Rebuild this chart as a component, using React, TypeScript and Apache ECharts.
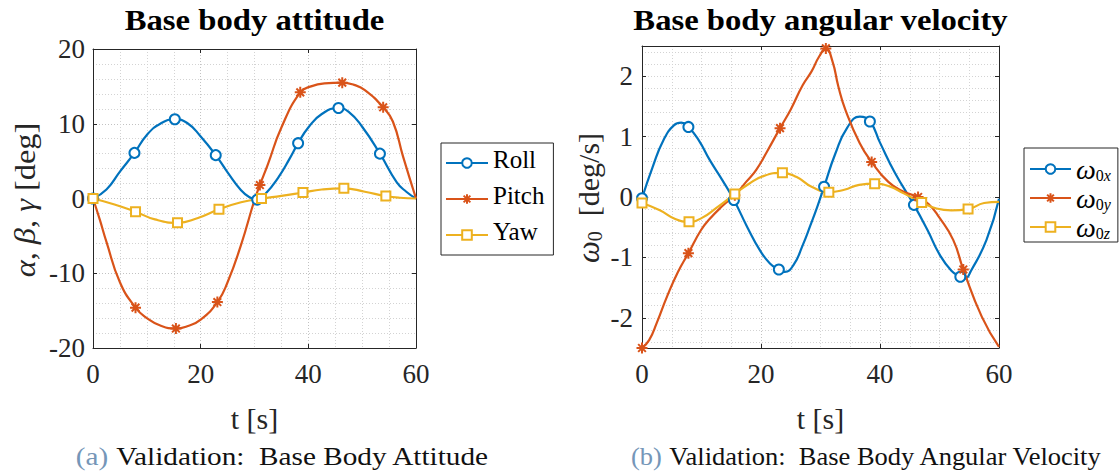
import React, { useEffect, useRef } from "react";
import * as echarts from "echarts";

// MATLAB default line colours
const BLUE = "#0072BD";
const ORANGE = "#D95319";
const YELLOW = "#EDB120";
const AX = "#262626";
const GRID_MAJOR = "#c2c2c2";
const GRID_MINOR = "#d3d3d3";
const FONT = "'Liberation Serif', 'Times New Roman', serif";

// ---------- Base body attitude [deg] ----------
const rollT = [0, 2.5, 5, 7.7, 10, 12.5, 15.2, 17.5, 20, 22.8, 25, 27.5, 29, 30.5, 32, 34.5, 36.5, 38.1, 40, 42.5, 45.6, 47.5, 50, 53.3, 56.4, 58.2, 60];
const rollV = [0, 1.2, 3.6, 6.1, 8.5, 10.0, 10.6, 10.1, 8.3, 5.8, 3.5, 1.1, 0.2, -0.15, 0.6, 2.9, 5.3, 7.4, 9.5, 11.3, 12.1, 11.6, 9.6, 6.0, 2.2, 0.9, 0];
const rollMarks = [0, 7.7, 15.2, 22.8, 30.5, 38.1, 45.6, 53.3];

const pitchT = [0, 1.25, 2.5, 5, 7.9, 10, 12.5, 15.4, 17.5, 20, 23.1, 25, 27.5, 30, 31, 32.5, 35, 38.5, 40.5, 43, 46.3, 48.5, 50.5, 53.9, 55.7, 57.6, 60];
const pitchV = [0, -2.8, -5.8, -11.2, -14.6, -16.0, -17.0, -17.4, -17.1, -16.2, -13.85, -11.2, -6.2, -0.2, 1.8, 4.6, 9.5, 14.2, 15.0, 15.4, 15.5, 15.2, 14.5, 12.2, 10.3, 5.6, 0];
const pitchMarks = [0, 7.9, 15.4, 23.1, 31, 38.5, 46.3, 53.9];

const yawT = [0, 4, 7.9, 11.5, 15.7, 19.5, 23.4, 27.5, 31.3, 35, 39, 42.5, 46.6, 50.5, 54.4, 57, 60];
const yawV = [0, -0.8, -1.77, -2.8, -3.25, -2.6, -1.45, -0.5, 0, 0.35, 0.8, 1.2, 1.36, 0.9, 0.33, 0.1, 0];
const yawMarks = [0, 7.9, 15.7, 23.4, 31.3, 39, 46.6, 54.4];

// ---------- Base body angular velocity [deg/s] ----------
const wxT = [0, 1.8, 3.6, 5.4, 6.6, 7.8, 9.6, 11.4, 13.5, 15.45, 17.7, 19.8, 21.5, 23, 24, 25.5, 27, 28.3, 29.5, 30.6, 32.5, 34.5, 36.6, 38.3, 40, 42.5, 45.7, 48, 50, 52, 53.5, 54.3, 55.3, 57.9, 60];
const wxV = [-0.02, 0.5, 0.94, 1.19, 1.23, 1.16, 0.93, 0.61, 0.28, -0.05, -0.5, -0.88, -1.1, -1.2, -1.24, -1.12, -0.8, -0.47, -0.15, 0.17, 0.72, 1.15, 1.33, 1.25, 0.9, 0.4, -0.13, -0.55, -0.95, -1.22, -1.32, -1.35, -1.22, -0.71, -0.03];
const wxMarks = [0, 7.8, 15.45, 23, 30.6, 38.3, 45.7, 53.5];

const wyT = [0, 1.2, 2.5, 4.2, 6, 7.8, 9.9, 11.4, 13.5, 15.6, 17.5, 19.2, 21, 23.2, 25, 27, 28.5, 29.8, 30.9, 32, 33, 34.2, 36.6, 38.6, 41.4, 43.9, 46.4, 48.2, 49.9, 52.3, 54, 57.1, 60];
const wyV = [-2.5, -2.37, -2.08, -1.65, -1.25, -0.93, -0.55, -0.36, -0.15, 0.03, 0.25, 0.45, 0.75, 1.14, 1.45, 1.85, 2.08, 2.33, 2.46, 2.25, 1.83, 1.44, 0.89, 0.58, 0.25, 0.09, 0.0, -0.12, -0.33, -0.71, -1.2, -1.98, -2.48];
const wyMarks = [0, 7.8, 15.6, 23.2, 30.9, 38.6, 46.4, 54];

const wzT = [0, 3, 5.5, 7.9, 10, 12.5, 15.6, 18, 20.5, 23.6, 26, 28.5, 31.4, 34, 36.5, 39.1, 41.5, 44, 47, 49.5, 52, 54.8, 57.5, 60];
const wzV = [-0.1, -0.22, -0.36, -0.41, -0.35, -0.18, 0.05, 0.22, 0.35, 0.4, 0.33, 0.17, 0.08, 0.12, 0.2, 0.22, 0.18, 0.06, -0.09, -0.19, -0.22, -0.2, -0.1, -0.08];
const wzMarks = [0, 7.9, 15.6, 23.6, 31.4, 39.1, 47, 54.8];

// Axis ticks
const timeTicks = { min: 0, max: 60, interval: 20 };
const attTicks = { min: -20, max: 20, interval: 10 };
const velRange = { min: -2.5, max: 2.5 };

const ASTERISK = "path://M5,0L5,10M0,5L10,5M1.5,1.5L8.5,8.5M1.5,8.5L8.5,1.5";

// Line points; only the listed times carry a marker
function buildData(t: number[], v: number[], marks: number[]) {
  return t.map((x, i) =>
    marks.includes(x) ? [x, v[i]] : { value: [x, v[i]], symbol: "none" }
  );
}

function lineSeries(
  name: string,
  color: string,
  symbol: string,
  symbolSize: number,
  t: number[],
  v: number[],
  marks: number[],
  axisIndex: number
) {
  return {
    name,
    type: "line",
    xAxisIndex: axisIndex * 2,
    yAxisIndex: axisIndex * 2,
    data: buildData(t, v, marks),
    smooth: 0.5,
    symbol,
    symbolSize,
    showSymbol: true,
    lineStyle: { color, width: 2.2 },
    itemStyle: { color, borderColor: color, borderWidth: 2 },
    emphasis: { disabled: true },
  };
}

const dotted = (color: string) => ({ show: true, lineStyle: { color, width: 1, type: [1, 2] } });

// Tick numbers rendered through a rich token so the serif face is kept
const tickRich = { n: { fontSize: 27, fontFamily: FONT, color: AX } };
const tickFmt = (v: number) => `{n|${v}}`;

function timeAxes(gridIndex: number) {
  return [
    {
      type: "value",
      gridIndex,
      position: "bottom",
      ...timeTicks,
      axisLine: { show: true, onZero: false, lineStyle: { color: AX, width: 1 } },
      axisTick: { show: true, inside: true, length: 4, lineStyle: { color: AX } },
      axisLabel: { show: true, fontSize: 27, fontFamily: FONT, color: AX, margin: 12, formatter: tickFmt, rich: tickRich },
      splitLine: dotted(GRID_MAJOR),
      minorTick: { show: false, splitNumber: 4 },
      minorSplitLine: dotted(GRID_MINOR),
    },
    {
      type: "value",
      gridIndex,
      position: "top",
      ...timeTicks,
      axisLine: { show: true, onZero: false, lineStyle: { color: AX, width: 1 } },
      axisTick: { show: true, inside: true, length: 4, lineStyle: { color: AX } },
      axisLabel: { show: false },
      splitLine: { show: false },
    },
  ];
}

export default function App() {
  const ref = useRef<HTMLDivElement>(null);

  useEffect(() => {
    if (!ref.current) return;
    const chart = echarts.init(ref.current, undefined, { renderer: "svg" });

    const option: any = {
      animation: false,
      backgroundColor: "#ffffff",
      textStyle: { fontFamily: FONT },
      grid: [
        { left: 93, top: 49, width: 323, height: 299, containLabel: false, outerBoundsMode: "none" },
        { left: 642, top: 46, width: 357, height: 302, containLabel: false, outerBoundsMode: "none" },
      ],
      xAxis: [...timeAxes(0), ...timeAxes(1)],
      yAxis: [
        {
          type: "value",
          gridIndex: 0,
          position: "left",
          ...attTicks,
          axisLine: { show: true, onZero: false, lineStyle: { color: AX, width: 1 } },
          axisTick: { show: true, inside: true, length: 4, lineStyle: { color: AX } },
          axisLabel: { fontSize: 27, fontFamily: FONT, color: AX, margin: 8, formatter: tickFmt, rich: tickRich },
          splitLine: dotted(GRID_MAJOR),
          minorTick: { show: false, splitNumber: 5 },
          minorSplitLine: dotted(GRID_MINOR),
        },
        {
          type: "value",
          gridIndex: 0,
          position: "right",
          ...attTicks,
          axisLine: { show: true, onZero: false, lineStyle: { color: AX, width: 1 } },
          axisTick: { show: true, inside: true, length: 4, lineStyle: { color: AX } },
          axisLabel: { show: false },
          splitLine: { show: false },
        },
        {
          type: "value",
          gridIndex: 1,
          position: "left",
          ...velRange,
          splitNumber: 5,
          axisLine: { show: true, onZero: false, lineStyle: { color: AX, width: 1 } },
          axisTick: { show: true, inside: true, length: 4, lineStyle: { color: AX } },
          axisLabel: {
            fontSize: 27,
            fontFamily: FONT,
            color: AX,
            margin: 9,
            showMinLabel: false,
            showMaxLabel: false,
            formatter: (v: number) => (Number.isInteger(v) ? `{n|${v}}` : ""),
            rich: tickRich,
          },
          splitLine: dotted(GRID_MAJOR),
        },
        {
          type: "value",
          gridIndex: 1,
          position: "right",
          ...velRange,
          splitNumber: 5,
          axisLine: { show: true, onZero: false, lineStyle: { color: AX, width: 1 } },
          axisTick: { show: true, inside: true, length: 4, lineStyle: { color: AX } },
          axisLabel: { show: false },
          splitLine: { show: false },
        },
        {
          // minor grid every 0.2 deg/s
          type: "value",
          gridIndex: 1,
          position: "left",
          ...velRange,
          splitNumber: 25,
          axisLine: { show: false },
          axisTick: { show: false },
          axisLabel: { show: false },
          splitLine: dotted(GRID_MINOR),
          z: 0,
        },
      ],
      legend: [
        {
          data: ["Roll", "Pitch", "Yaw"],
          orient: "vertical",
          left: 441,
          top: 143,
          itemWidth: 42,
          itemHeight: 12,
          itemGap: 4,
          padding: [4, 9, 4, 4],
          backgroundColor: "#ffffff",
          borderColor: AX,
          borderWidth: 1,
          borderRadius: 0,
          selectedMode: false,
          formatter: (name: string) => `{n|${name}}`,
          textStyle: {
            fontSize: 25,
            fontFamily: FONT,
            color: "#000",
            rich: { n: { fontSize: 25, fontFamily: FONT, color: "#000", lineHeight: 24, padding: [0, 0, 7, 0] } },
          },
        },
        {
          data: ["ω0x", "ω0y", "ω0z"],
          orient: "vertical",
          left: 1024,
          top: 148,
          itemWidth: 41,
          itemHeight: 12,
          itemGap: 0,
          padding: [6, 7, 1, 5],
          backgroundColor: "#ffffff",
          borderColor: AX,
          borderWidth: 1,
          borderRadius: 0,
          selectedMode: false,
          formatter: (name: string) => `{w|ω}{s|0}{i|${name.slice(2)}}`,
          textStyle: {
            fontSize: 26,
            fontFamily: FONT,
            color: "#000",
            rich: {
              w: { fontSize: 28, fontStyle: "italic", fontFamily: FONT, lineHeight: 30, color: "#000" },
              s: { fontSize: 16, fontFamily: FONT, lineHeight: 16, verticalAlign: "top", padding: [13, 0, 0, 0], color: "#000" },
              i: { fontSize: 16, fontStyle: "italic", fontFamily: FONT, lineHeight: 16, verticalAlign: "top", padding: [13, 0, 0, 0], color: "#000" },
            },
          },
        },
      ],
      series: [
        lineSeries("Roll", BLUE, "emptyCircle", 10, rollT, rollV, rollMarks, 0),
        lineSeries("Pitch", ORANGE, ASTERISK, 11, pitchT, pitchV, pitchMarks, 0),
        lineSeries("Yaw", YELLOW, "emptyRect", 9, yawT, yawV, yawMarks, 0),
        lineSeries("ω0x", BLUE, "emptyCircle", 10, wxT, wxV, wxMarks, 1),
        lineSeries("ω0y", ORANGE, ASTERISK, 11, wyT, wyV, wyMarks, 1),
        lineSeries("ω0z", YELLOW, "emptyRect", 9, wzT, wzV, wzMarks, 1),
      ],
      graphic: [
        {
          type: "text",
          x: 254.5,
          y: 20,
          scaleX: 1.09,
          style: { text: "Base body attitude", fontSize: 30, fontWeight: "bold", fontFamily: FONT, fill: "#000", align: "center", verticalAlign: "middle" },
        },
        {
          type: "text",
          x: 820.5,
          y: 20,
          scaleX: 1.09,
          style: { text: "Base body angular velocity", fontSize: 30, fontWeight: "bold", fontFamily: FONT, fill: "#000", align: "center", verticalAlign: "middle" },
        },
        {
          type: "text",
          x: 254.5,
          y: 418,
          style: { text: "t [s]", fontSize: 30, fontFamily: FONT, fill: AX, align: "center", verticalAlign: "middle" },
        },
        {
          type: "text",
          x: 820.5,
          y: 418,
          style: { text: "t [s]", fontSize: 30, fontFamily: FONT, fill: AX, align: "center", verticalAlign: "middle" },
        },
        {
          type: "text",
          x: 25,
          y: 200,
          rotation: Math.PI / 2,
          scaleX: 1.08,
          style: {
            text: "{m|α}, {m|β}, {m|γ} [deg]",
            fontSize: 30,
            fontFamily: FONT,
            fill: AX,
            align: "center",
            verticalAlign: "middle",
            rich: { m: { fontSize: 30, fontStyle: "italic", fontFamily: FONT, fill: AX } },
          },
        },
        {
          type: "text",
          x: 588,
          y: 198,
          rotation: Math.PI / 2,
          style: {
            text: "{w|ω}{s|0}  [deg/s]",
            fontSize: 30,
            fontFamily: FONT,
            fill: AX,
            align: "center",
            verticalAlign: "middle",
            rich: {
              w: { fontSize: 31, fontStyle: "italic", fontFamily: FONT, lineHeight: 34, fill: AX },
              s: { fontSize: 20, fontFamily: FONT, lineHeight: 20, verticalAlign: "top", padding: [14, 0, 0, 0], fill: AX },
            },
          },
        },
        {
          type: "text",
          x: 282.5,
          y: 457,
          scaleX: 1.17,
          style: {
            text: "{a|(a)} Validation:  Base Body Attitude",
            fontSize: 25,
            fontFamily: FONT,
            fill: "#111",
            align: "center",
            verticalAlign: "middle",
            rich: { a: { fontSize: 25, fontFamily: FONT, fill: "#7596b8" } },
          },
        },
        {
          type: "text",
          x: 866.5,
          y: 457,
          scaleX: 1.06,
          style: {
            text: "{a|(b)} Validation:  Base Body Angular Velocity",
            fontSize: 25,
            fontFamily: FONT,
            fill: "#111",
            align: "center",
            verticalAlign: "middle",
            rich: { a: { fontSize: 25, fontFamily: FONT, fill: "#7596b8" } },
          },
        },
      ],
    };

    chart.setOption(option);
    return () => chart.dispose();
  }, []);

  return (
    <div
      ref={ref}
      style={{ position: "absolute", left: 0, top: 0, width: 1119, height: 475, background: "#fff" }}
    />
  );
}
